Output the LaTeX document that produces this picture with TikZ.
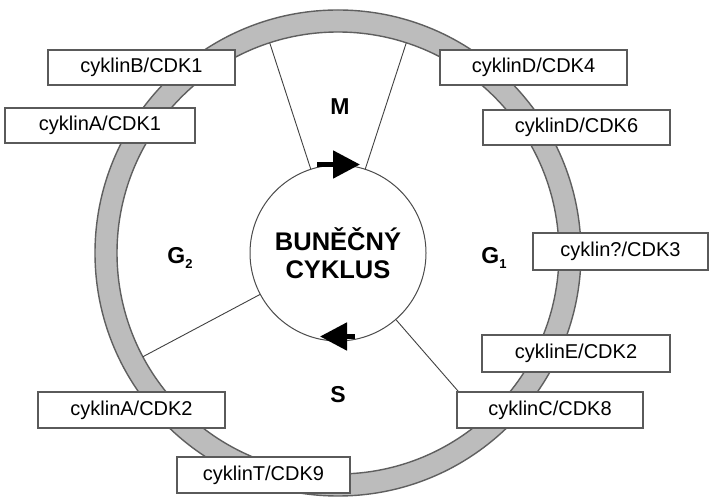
\documentclass[tikz,border=0pt]{standalone}
\usepackage{fontspec}
\setmainfont{Liberation Sans}
\usetikzlibrary{arrows.meta,calc}

\definecolor{ringfill}{RGB}{188,188,188}
\definecolor{ringline}{RGB}{95,95,95}
\definecolor{boxline}{RGB}{90,90,90}

\begin{document}
\begin{tikzpicture}[x=1pt, y=1pt,
    ring/.style={draw=ringline, line width=1.4pt, fill=ringfill, even odd rule},
    sector/.style={draw=black!75, line width=0.9pt},
    cdk/.style={draw=boxline, line width=1.3pt, fill=white, minimum height=35pt,
      inner sep=0pt, font=\fontsize{20}{24}\selectfont},
    phase/.style={font=\fontsize{23}{26}\selectfont\bfseries},
    turn/.style={line width=5pt, -{Triangle[length=27pt,width=27pt]}}]

      \useasboundingbox (0,0) rectangle (711,497);

      \coordinate (cen) at (338,244);

      \draw[ring] (cen) circle (243pt) (cen) circle (221pt);

      \coordinate (ml) at ($(cen)+(108:221pt)$);
      \coordinate (mr) at ($(cen)+(72:221pt)$);
      \coordinate (gs) at ($(cen)+(208:221pt)$);
      \coordinate (sg) at ($(cen)+(311:221pt)$);

      \node[circle, draw=black!70, line width=1pt, fill=white, minimum size=176pt,
        inner sep=0pt, align=center, font=\fontsize{25.5}{28}\selectfont\bfseries]
        (cyc) at (cen) {BUNĚČNÝ\\CYKLUS};

      \draw[sector] (cyc.108) -- (ml);
      \draw[sector] (cyc.72) -- (mr);
      \draw[sector] (cyc.208) -- (gs);
      \draw[sector] (cyc.311) -- (sg);

      \draw[turn] ([xshift=-21pt]cyc.north) -- ([xshift=22pt]cyc.north);
      \draw[turn] ([xshift=17pt,yshift=5pt]cyc.south) -- ([xshift=-18pt,yshift=5pt]cyc.south);

      \node[phase] (m) at (340,390) {M};
      \node[phase] (s) at (338,102) {S};
      \node[phase] (g2) at (180,239) {G\raisebox{-5pt}{\fontsize{13}{13}\selectfont 2}};
      \node[phase] (g1) at (494,239) {G\raisebox{-5pt}{\fontsize{13}{13}\selectfont 1}};

      \node[cdk, minimum width=187pt] (bcdk1) at (141.5,429.5) {cyklinB/CDK1};
      \node[cdk, minimum width=190pt] (acdk1) at (100,371.5) {cyklinA/CDK1};
      \node[cdk, minimum width=187pt] (dcdk4) at (533.5,429.5) {cyklinD/CDK4};
      \node[cdk, minimum width=187pt] (dcdk6) at (576.5,369.5) {cyklinD/CDK6};
      \node[cdk, minimum width=175pt, minimum height=37pt] (qcdk3) at (620.5,245.5) {cyklin?/CDK3};
      \node[cdk, minimum width=188pt, minimum height=37pt] (ecdk2) at (576,143.5) {cyklinE/CDK2};
      \node[cdk, minimum width=186pt, minimum height=36pt] (ccdk8) at (550,87) {cyklinC/CDK8};
      \node[cdk, minimum width=187pt, minimum height=36pt] (acdk2) at (131.5,87) {cyklinA/CDK2};
      \node[cdk, minimum width=173pt, minimum height=36pt] (tcdk9) at (263.5,22) {cyklinT/CDK9};
    \end{tikzpicture}
\end{document}
